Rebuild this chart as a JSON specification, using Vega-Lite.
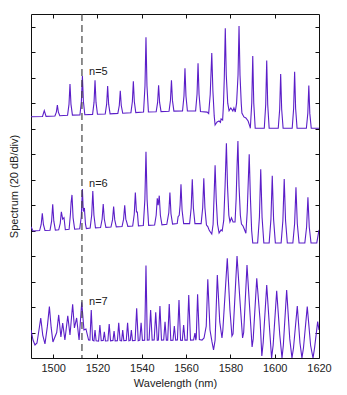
{
  "$schema": "https://vega.github.io/schema/vega-lite/v6.json",
  "width": 288,
  "height": 344,
  "autosize": {"type": "none"},
  "padding": {"left": 31, "top": 14, "right": 28, "bottom": 37},
  "background": "white",
  "config": {
    "view": {"stroke": "#111", "strokeWidth": 1},
    "font": "Liberation Sans",
    "axis": {"grid": false, "domain": false, "tickColor": "#111", "labelColor": "#222", "titleColor": "#222", "labelFontSize": 11, "titleFontSize": 11, "titleFontWeight": "normal", "labelFont": "Liberation Sans", "titleFont": "Liberation Sans"}
  },
  "resolve": {"axis": {"x": "independent", "y": "independent"}},
  "datasets": {
    "spec": [
      {"s":"n5","x":1490,"y":189.4},
      {"s":"n5","x":1495.2,"y":189.6},{"s":"n5","x":1496.0,"y":194.1},{"s":"n5","x":1496.8,"y":189.7},
      {"s":"n5","x":1500.8,"y":190},{"s":"n5","x":1501.45,"y":193},{"s":"n5","x":1501.9,"y":198.6},{"s":"n5","x":1502.35,"y":193},{"s":"n5","x":1503.0,"y":190.1},
      {"s":"n5","x":1506.5,"y":190.5},{"s":"n5","x":1507.15,"y":199.1},{"s":"n5","x":1507.6,"y":215.1},{"s":"n5","x":1508.05,"y":199.1},{"s":"n5","x":1508.7,"y":190.6},
      {"s":"n5","x":1512.1,"y":190.8},{"s":"n5","x":1512.75,"y":201.5},{"s":"n5","x":1513.2,"y":221.4},{"s":"n5","x":1513.65,"y":201.5},{"s":"n5","x":1514.3,"y":190.9},
      {"s":"n5","x":1517.8,"y":191.2},{"s":"n5","x":1518.45,"y":200.6},{"s":"n5","x":1518.9,"y":218.0},{"s":"n5","x":1519.35,"y":200.6},{"s":"n5","x":1520.0,"y":191.3},
      {"s":"n5","x":1523.5,"y":191.5},{"s":"n5","x":1524.15,"y":199.2},{"s":"n5","x":1524.6,"y":213.5},{"s":"n5","x":1525.05,"y":199.2},{"s":"n5","x":1525.7,"y":191.6},
      {"s":"n5","x":1529.2,"y":192},{"s":"n5","x":1529.85,"y":198.2},{"s":"n5","x":1530.3,"y":209.8},{"s":"n5","x":1530.75,"y":198.2},{"s":"n5","x":1531.4,"y":192.1},
      {"s":"n5","x":1535.1,"y":192.5},{"s":"n5","x":1535.75,"y":201.1},{"s":"n5","x":1536.2,"y":217.2},{"s":"n5","x":1536.65,"y":201.1},{"s":"n5","x":1537.3,"y":192.6},
      {"s":"n5","x":1540.8,"y":193},{"s":"n5","x":1541.45,"y":213.5},{"s":"n5","x":1541.9,"y":251.7},{"s":"n5","x":1542.35,"y":213.5},{"s":"n5","x":1543.0,"y":193.1},
      {"s":"n5","x":1546.5,"y":193.3},{"s":"n5","x":1547.15,"y":200.6},{"s":"n5","x":1547.6,"y":214.1},{"s":"n5","x":1548.05,"y":200.6},{"s":"n5","x":1548.7,"y":193.4},
      {"s":"n5","x":1552.3,"y":193.7},{"s":"n5","x":1552.95,"y":202.2},{"s":"n5","x":1553.4,"y":218},{"s":"n5","x":1553.85,"y":202.2},{"s":"n5","x":1554.5,"y":193.8},
      {"s":"n5","x":1558.4,"y":193.9},{"s":"n5","x":1559.05,"y":205.6},{"s":"n5","x":1559.5,"y":227.4},{"s":"n5","x":1559.95,"y":205.6},{"s":"n5","x":1560.6,"y":193.9},
      {"s":"n5","x":1564.3,"y":193.9},{"s":"n5","x":1564.95,"y":207},{"s":"n5","x":1565.4,"y":231.3},{"s":"n5","x":1565.85,"y":207},{"s":"n5","x":1566.5,"y":193.5},
      {"s":"n5","x":1569.5,"y":193.0},{"s":"n5","x":1570.2,"y":191.8},
      {"s":"n5","x":1570.9,"y":207},{"s":"n5","x":1571.6,"y":239.4},{"s":"n5","x":1572.1,"y":210},{"s":"n5","x":1572.7,"y":190},{"s":"n5","x":1573.1,"y":182.9},{"s":"n5","x":1574.0,"y":185.3},{"s":"n5","x":1574.9,"y":186.0},{"s":"n5","x":1575.5,"y":185.0},{"s":"n5","x":1575.8,"y":187.6},{"s":"n5","x":1576.5,"y":186.8},
      {"s":"n5","x":1576.9,"y":200},{"s":"n5","x":1577.25,"y":220},{"s":"n5","x":1577.7,"y":258.8},{"s":"n5","x":1578.15,"y":222},{"s":"n5","x":1578.8,"y":200},{"s":"n5","x":1579.4,"y":194.1},{"s":"n5","x":1580.2,"y":196.3},{"s":"n5","x":1581.1,"y":193.9},{"s":"n5","x":1581.6,"y":196.3},{"s":"n5","x":1582.2,"y":193.1},
      {"s":"n5","x":1582.8,"y":200},{"s":"n5","x":1583.45,"y":222},{"s":"n5","x":1583.9,"y":260.6},{"s":"n5","x":1584.35,"y":222},{"s":"n5","x":1584.9,"y":200},{"s":"n5","x":1585.2,"y":192.3},{"s":"n5","x":1586.1,"y":189.2},{"s":"n5","x":1587.0,"y":188.4},{"s":"n5","x":1588.0,"y":186},{"s":"n5","x":1588.9,"y":181.3},
      {"s":"n5","x":1589.0,"y":180.3},{"s":"n5","x":1589.65,"y":200.2},{"s":"n5","x":1590.1,"y":237.1},{"s":"n5","x":1590.55,"y":200.2},{"s":"n5","x":1591.2,"y":180.3},
      {"s":"n5","x":1595.3,"y":180.3},{"s":"n5","x":1595.95,"y":198.9},{"s":"n5","x":1596.4,"y":233.4},{"s":"n5","x":1596.85,"y":198.9},{"s":"n5","x":1597.5,"y":180.3},
      {"s":"n5","x":1601.6,"y":180.3},{"s":"n5","x":1602.25,"y":195.2},{"s":"n5","x":1602.7,"y":222.9},{"s":"n5","x":1603.15,"y":195.2},{"s":"n5","x":1603.8,"y":180.3},
      {"s":"n5","x":1607.9,"y":180.3},{"s":"n5","x":1608.55,"y":195.8},{"s":"n5","x":1609.0,"y":224.7},{"s":"n5","x":1609.45,"y":195.8},{"s":"n5","x":1610.1,"y":180.3},
      {"s":"n5","x":1614.3,"y":180.3},{"s":"n5","x":1614.95,"y":192},{"s":"n5","x":1615.4,"y":213.8},{"s":"n5","x":1615.85,"y":192},{"s":"n5","x":1616.5,"y":180.3},
      {"s":"n5","x":1620,"y":180.3},

      {"s":"n6","x":1490,"y":103.1},{"s":"n6","x":1490.9,"y":99.7},
      {"s":"n6","x":1493.9,"y":100},{"s":"n6","x":1494.6,"y":104.8},{"s":"n6","x":1495.1,"y":113.6},{"s":"n6","x":1495.6,"y":104.8},{"s":"n6","x":1496.3,"y":100.1},
      {"s":"n6","x":1498.6,"y":100.3},{"s":"n6","x":1499.3,"y":107.4},{"s":"n6","x":1499.8,"y":120.7},{"s":"n6","x":1500.3,"y":107.4},{"s":"n6","x":1501.0,"y":100.4},
      {"s":"n6","x":1502.5,"y":100.6},{"s":"n6","x":1503.2,"y":105.7},{"s":"n6","x":1503.7,"y":114.8},{"s":"n6","x":1504.3,"y":109},{"s":"n6","x":1504.9,"y":110.1},{"s":"n6","x":1505.5,"y":100.7},
      {"s":"n6","x":1507.2,"y":101},{"s":"n6","x":1507.8,"y":113},{"s":"n6","x":1508.1,"y":122},{"s":"n6","x":1508.5,"y":128},{"s":"n6","x":1509.0,"y":110},{"s":"n6","x":1509.7,"y":101.1},
      {"s":"n6","x":1512.0,"y":101.5},{"s":"n6","x":1512.7,"y":111},{"s":"n6","x":1513.2,"y":132.7},{"s":"n6","x":1513.6,"y":115},{"s":"n6","x":1514.1,"y":117.8},{"s":"n6","x":1514.6,"y":105},{"s":"n6","x":1515.0,"y":101.6},
      {"s":"n6","x":1516.7,"y":102},{"s":"n6","x":1517.4,"y":112.2},{"s":"n6","x":1517.9,"y":131.1},{"s":"n6","x":1518.4,"y":112.2},{"s":"n6","x":1519.1,"y":102.1},
      {"s":"n6","x":1521.4,"y":102.4},{"s":"n6","x":1522.1,"y":108.9},{"s":"n6","x":1522.6,"y":120.9},{"s":"n6","x":1523.1,"y":108.9},{"s":"n6","x":1523.8,"y":102.5},
      {"s":"n6","x":1526.1,"y":102.8},{"s":"n6","x":1526.8,"y":108.4},{"s":"n6","x":1527.3,"y":118.8},{"s":"n6","x":1527.8,"y":108.4},{"s":"n6","x":1528.5,"y":102.9},
      {"s":"n6","x":1531.1,"y":103.2},{"s":"n6","x":1531.8,"y":109},{"s":"n6","x":1532.3,"y":119.9},{"s":"n6","x":1532.8,"y":109},{"s":"n6","x":1533.3,"y":106},{"s":"n6","x":1533.7,"y":103.3},
      {"s":"n6","x":1535.9,"y":103.6},{"s":"n6","x":1536.6,"y":112.8},{"s":"n6","x":1537.1,"y":129.8},{"s":"n6","x":1537.6,"y":114.6},{"s":"n6","x":1538.0,"y":114.6},{"s":"n6","x":1538.5,"y":103.7},
      {"s":"n6","x":1540.7,"y":104},{"s":"n6","x":1541.4,"y":124.3},{"s":"n6","x":1541.9,"y":161.9},{"s":"n6","x":1542.4,"y":124.3},{"s":"n6","x":1543.1,"y":104.1},
      {"s":"n6","x":1545.8,"y":104.4},{"s":"n6","x":1546.5,"y":112},{"s":"n6","x":1547.0,"y":125.4},{"s":"n6","x":1547.4,"y":120},{"s":"n6","x":1547.9,"y":127.4},{"s":"n6","x":1548.4,"y":112},{"s":"n6","x":1549.1,"y":104.5},
      {"s":"n6","x":1551.3,"y":105},{"s":"n6","x":1551.8,"y":110},{"s":"n6","x":1552.2,"y":114},{"s":"n6","x":1552.7,"y":129.8},{"s":"n6","x":1553.2,"y":113},{"s":"n6","x":1553.9,"y":105.1},
      {"s":"n6","x":1556.0,"y":105.5},{"s":"n6","x":1556.4,"y":110.9},{"s":"n6","x":1556.9,"y":112},{"s":"n6","x":1557.3,"y":120},{"s":"n6","x":1557.7,"y":136.4},{"s":"n6","x":1558.2,"y":116},{"s":"n6","x":1558.9,"y":105.5},
      {"s":"n6","x":1561.6,"y":105.5},{"s":"n6","x":1562.3,"y":117.7},{"s":"n6","x":1562.8,"y":140.3},{"s":"n6","x":1563.3,"y":117.7},{"s":"n6","x":1564.0,"y":105.5},
      {"s":"n6","x":1566.8,"y":105.5},{"s":"n6","x":1567.5,"y":117.9},{"s":"n6","x":1568.0,"y":141.1},{"s":"n6","x":1568.5,"y":117.9},{"s":"n6","x":1569.2,"y":104.4},{"s":"n6","x":1569.8,"y":103.1},{"s":"n6","x":1570.5,"y":100},{"s":"n6","x":1571.6,"y":97.3},
      {"s":"n6","x":1572.2,"y":105},{"s":"n6","x":1572.6,"y":125},{"s":"n6","x":1573.1,"y":151.3},{"s":"n6","x":1573.6,"y":125},{"s":"n6","x":1574.2,"y":105},{"s":"n6","x":1574.9,"y":98.1},{"s":"n6","x":1575.8,"y":100.5},{"s":"n6","x":1576.3,"y":99.7},
      {"s":"n6","x":1577.0,"y":108},{"s":"n6","x":1577.6,"y":135},{"s":"n6","x":1578.2,"y":168.5},{"s":"n6","x":1578.7,"y":135},{"s":"n6","x":1579.3,"y":112},{"s":"n6","x":1579.8,"y":106.8},{"s":"n6","x":1580.5,"y":110},{"s":"n6","x":1581.2,"y":106.8},{"s":"n6","x":1582.1,"y":106.8},
      {"s":"n6","x":1582.6,"y":125},{"s":"n6","x":1583.0,"y":150},{"s":"n6","x":1583.4,"y":170.3},{"s":"n6","x":1583.9,"y":135},{"s":"n6","x":1584.5,"y":112},{"s":"n6","x":1585.0,"y":105.2},{"s":"n6","x":1585.7,"y":103.6},{"s":"n6","x":1586.3,"y":101},{"s":"n6","x":1587.0,"y":97.9},
      {"s":"n6","x":1587.6,"y":115},{"s":"n6","x":1588.0,"y":135},{"s":"n6","x":1588.5,"y":159.9},{"s":"n6","x":1589.0,"y":128},{"s":"n6","x":1589.6,"y":100},{"s":"n6","x":1590.1,"y":90.3},
      {"s":"n6","x":1592.3,"y":90.3},{"s":"n6","x":1593.1,"y":110.5},{"s":"n6","x":1593.7,"y":148.1},{"s":"n6","x":1594.3,"y":110.5},{"s":"n6","x":1595.1,"y":90.3},
      {"s":"n6","x":1597.5,"y":90.3},{"s":"n6","x":1598.3,"y":108.8},{"s":"n6","x":1598.9,"y":143.1},{"s":"n6","x":1599.5,"y":108.8},{"s":"n6","x":1600.3,"y":90.3},
      {"s":"n6","x":1602.9,"y":90.3},{"s":"n6","x":1603.7,"y":107.9},{"s":"n6","x":1604.3,"y":140.5},{"s":"n6","x":1604.9,"y":107.9},{"s":"n6","x":1605.7,"y":90.3},
      {"s":"n6","x":1608.2,"y":90.3},{"s":"n6","x":1609.0,"y":105.6},{"s":"n6","x":1609.6,"y":134},{"s":"n6","x":1610.2,"y":105.6},{"s":"n6","x":1611.0,"y":90.3},
      {"s":"n6","x":1613.6,"y":90.3},{"s":"n6","x":1614.4,"y":102.8},{"s":"n6","x":1615.0,"y":126.1},{"s":"n6","x":1615.6,"y":102.8},{"s":"n6","x":1616.4,"y":90.3},
      {"s":"n6","x":1619.0,"y":90.3},{"s":"n6","x":1620,"y":100.5},

      {"s":"n7","x":1490,"y":22.0},{"s":"n7","x":1490.9,"y":14.1},{"s":"n7","x":1491.8,"y":10.2},{"s":"n7","x":1492.7,"y":11.8},
      {"s":"n7","x":1493.6,"y":22},{"s":"n7","x":1494.4,"y":31.4},{"s":"n7","x":1495.3,"y":18},{"s":"n7","x":1496.3,"y":11.0},
      {"s":"n7","x":1497.4,"y":25},{"s":"n7","x":1498.3,"y":40.3},{"s":"n7","x":1499.1,"y":24},{"s":"n7","x":1499.9,"y":12.6},
      {"s":"n7","x":1501.6,"y":20},{"s":"n7","x":1502.5,"y":33.8},{"s":"n7","x":1503.5,"y":16.5},{"s":"n7","x":1504.3,"y":27.5},{"s":"n7","x":1505.3,"y":14.1},
      {"s":"n7","x":1506.6,"y":33.2},{"s":"n7","x":1507.6,"y":18.1},{"s":"n7","x":1508.8,"y":42.2},{"s":"n7","x":1509.6,"y":23.6},{"s":"n7","x":1510.6,"y":31.4},{"s":"n7","x":1511.7,"y":14.1},
      {"s":"n7","x":1512.9,"y":43.7},{"s":"n7","x":1513.9,"y":22},{"s":"n7","x":1514.8,"y":22.8},{"s":"n7","x":1516.0,"y":14.1},
      {"s":"n7","x":1516.6,"y":14},{"s":"n7","x":1517.2,"y":37.7},{"s":"n7","x":1517.8,"y":14},{"s":"n7","x":1518.4,"y":13.5},{"s":"n7","x":1518.9,"y":22},{"s":"n7","x":1519.4,"y":13.5},
      {"s":"n7","x":1520.5,"y":13.3},{"s":"n7","x":1521.1,"y":25.9},{"s":"n7","x":1521.7,"y":13.6},{"s":"n7","x":1522.6,"y":13.8},{"s":"n7","x":1523.1,"y":20.6},{"s":"n7","x":1523.6,"y":13.4},
      {"s":"n7","x":1524.7,"y":13.6},{"s":"n7","x":1525.3,"y":26.7},{"s":"n7","x":1525.9,"y":13.5},{"s":"n7","x":1527.0,"y":13.8},{"s":"n7","x":1527.5,"y":21.2},{"s":"n7","x":1528.0,"y":13.5},
      {"s":"n7","x":1529.0,"y":13.6},{"s":"n7","x":1529.6,"y":27.7},{"s":"n7","x":1530.2,"y":13.7},{"s":"n7","x":1530.9,"y":13.5},{"s":"n7","x":1531.4,"y":22.0},{"s":"n7","x":1531.9,"y":13.6},
      {"s":"n7","x":1533.0,"y":13.7},{"s":"n7","x":1533.6,"y":27.7},{"s":"n7","x":1534.2,"y":13.5},{"s":"n7","x":1534.8,"y":13.8},{"s":"n7","x":1535.3,"y":22.0},{"s":"n7","x":1535.8,"y":13.6},
      {"s":"n7","x":1537.0,"y":13.8},{"s":"n7","x":1537.7,"y":39.0},{"s":"n7","x":1538.4,"y":13.6},{"s":"n7","x":1539.1,"y":14},{"s":"n7","x":1539.7,"y":27.7},{"s":"n7","x":1540.3,"y":13.8},
      {"s":"n7","x":1541.3,"y":14},{"s":"n7","x":1541.9,"y":72.5},{"s":"n7","x":1542.5,"y":14},{"s":"n7","x":1543.3,"y":14.2},{"s":"n7","x":1544.0,"y":37.7},{"s":"n7","x":1544.7,"y":14},
      {"s":"n7","x":1545.6,"y":14.2},{"s":"n7","x":1546.3,"y":35.9},{"s":"n7","x":1547.0,"y":13.8},{"s":"n7","x":1547.5,"y":14},{"s":"n7","x":1548.2,"y":40.8},{"s":"n7","x":1548.9,"y":14},
      {"s":"n7","x":1549.9,"y":14.2},{"s":"n7","x":1550.5,"y":28.5},{"s":"n7","x":1551.1,"y":14},{"s":"n7","x":1551.7,"y":14},{"s":"n7","x":1552.4,"y":42.4},{"s":"n7","x":1553.1,"y":13.8},
      {"s":"n7","x":1554.1,"y":14},{"s":"n7","x":1554.7,"y":25.1},{"s":"n7","x":1555.3,"y":14},{"s":"n7","x":1556.1,"y":14.2},{"s":"n7","x":1556.8,"y":45.5},{"s":"n7","x":1557.5,"y":14},
      {"s":"n7","x":1558.3,"y":13.8},{"s":"n7","x":1558.9,"y":25.9},{"s":"n7","x":1559.5,"y":14},{"s":"n7","x":1560.5,"y":14},{"s":"n7","x":1561.2,"y":49.5},{"s":"n7","x":1562.0,"y":14},
      {"s":"n7","x":1563.4,"y":14.2},{"s":"n7","x":1564.0,"y":19.6},{"s":"n7","x":1564.4,"y":14},{"s":"n7","x":1564.6,"y":16},{"s":"n7","x":1565.2,"y":50.0},{"s":"n7","x":1566.0,"y":14.5},
      {"s":"n7","x":1567.2,"y":14.1},{"s":"n7","x":1568.1,"y":15.7},{"s":"n7","x":1569.1,"y":25},
      {"s":"n7","x":1569.8,"y":61.8},{"s":"n7","x":1570.8,"y":22},{"s":"n7","x":1571.7,"y":12.6},{"s":"n7","x":1572.4,"y":6.3},{"s":"n7","x":1573.1,"y":14},
      {"s":"n7","x":1574.1,"y":65.2},{"s":"n7","x":1575.2,"y":28.3},{"s":"n7","x":1576.2,"y":15.7},{"s":"n7","x":1576.6,"y":22},
      {"s":"n7","x":1578.6,"y":78.3},{"s":"n7","x":1579.8,"y":37.7},{"s":"n7","x":1580.7,"y":17.3},{"s":"n7","x":1581.2,"y":19},
      {"s":"n7","x":1583.0,"y":80.1},{"s":"n7","x":1584.3,"y":45.5},{"s":"n7","x":1585.5,"y":15.7},{"s":"n7","x":1586.0,"y":20},
      {"s":"n7","x":1587.5,"y":73.0},{"s":"n7","x":1588.9,"y":33.8},{"s":"n7","x":1589.8,"y":8.6},{"s":"n7","x":1590.3,"y":15},
      {"s":"n7","x":1591.9,"y":62.6},{"s":"n7","x":1593.4,"y":29.8},{"s":"n7","x":1594.2,"y":1.6},{"s":"n7","x":1594.8,"y":12},
      {"s":"n7","x":1596.4,"y":57.3},{"s":"n7","x":1597.8,"y":20},{"s":"n7","x":1598.6,"y":0},{"s":"n7","x":1599.3,"y":10},
      {"s":"n7","x":1600.9,"y":52.8},{"s":"n7","x":1602.3,"y":18},{"s":"n7","x":1603.3,"y":0},{"s":"n7","x":1603.9,"y":10},
      {"s":"n7","x":1605.4,"y":53.4},{"s":"n7","x":1606.8,"y":15},{"s":"n7","x":1607.8,"y":0},{"s":"n7","x":1608.5,"y":8},
      {"s":"n7","x":1610.2,"y":40.8},{"s":"n7","x":1611.4,"y":12},{"s":"n7","x":1612.3,"y":0},{"s":"n7","x":1613.0,"y":8},
      {"s":"n7","x":1614.7,"y":40.3},{"s":"n7","x":1616.2,"y":10},{"s":"n7","x":1617.3,"y":0},{"s":"n7","x":1618.0,"y":8},
      {"s":"n7","x":1619.4,"y":28.5},{"s":"n7","x":1620,"y":22}
    ],
    "marker": [{"x": 1513}],
    "labels": [
      {"label": "n=5", "x": 1516.2, "y": 224.8},
      {"label": "n=6", "x": 1516.2, "y": 136.6},
      {"label": "n=7", "x": 1516.2, "y": 44.2}
    ]
  },
  "layer": [
    {
      "data": {"name": "spec"},
      "mark": {"type": "line", "color": "#5b1ec8", "strokeWidth": 1.1, "clip": true},
      "encoding": {
        "x": {"field": "x", "type": "quantitative", "scale": {"domain": [1490, 1620], "nice": false, "zero": false},
              "axis": {"orient": "bottom", "title": "Wavelength (nm)", "format": "d", "values": [1500, 1520, 1540, 1560, 1580, 1600, 1620], "tickSize": -4, "labelPadding": 8, "titlePadding": 4, "labelFlush": false, "labelOverlap": false}},
        "y": {"field": "y", "type": "quantitative", "scale": {"domain": [0, 270], "nice": false, "zero": false},
              "axis": {"orient": "left", "title": "Spectrum (20 dB/div)", "values": [20, 40, 60, 80, 100, 120, 140, 160, 180, 200, 220, 240, 260], "tickSize": -4, "labels": false, "titlePadding": 11}},
        "detail": {"field": "s", "type": "nominal"}
      }
    },
    {
      "data": {"name": "marker"},
      "mark": {"type": "rule", "color": "#444", "strokeWidth": 1.2, "strokeDash": [7, 4]},
      "encoding": {
        "x": {"field": "x", "type": "quantitative",
              "axis": {"orient": "top", "title": null, "values": [1500, 1520, 1540, 1560, 1580, 1600], "tickSize": -4, "labels": false}}
      }
    },
    {
      "data": {"name": "labels"},
      "mark": {"type": "text", "align": "left", "baseline": "middle", "fontSize": 11, "color": "#222", "font": "Liberation Sans"},
      "encoding": {
        "x": {"field": "x", "type": "quantitative", "axis": null},
        "y": {"field": "y", "type": "quantitative",
              "axis": {"orient": "right", "title": null, "values": [20, 40, 60, 80, 100, 120, 140, 160, 180, 200, 220, 240, 260], "tickSize": -4, "labels": false}},
        "text": {"field": "label", "type": "nominal"}
      }
    }
  ]
}
